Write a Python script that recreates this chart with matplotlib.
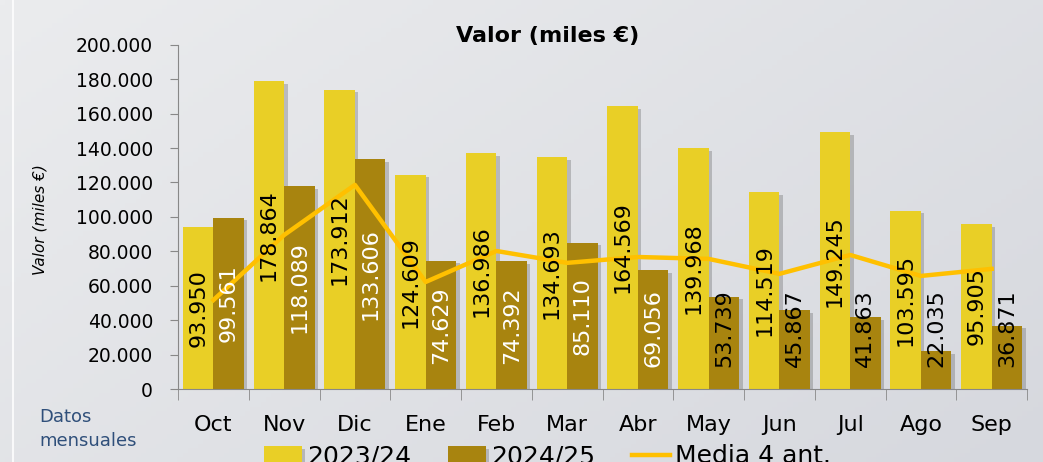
import matplotlib.pyplot as plt
import matplotlib.patheffects as pe
import numpy as np
from matplotlib.lines import Line2D
from matplotlib.ticker import FuncFormatter

# Datos
meses = ["Oct", "Nov", "Dic", "Ene", "Feb", "Mar", "Abr", "May", "Jun", "Jul", "Ago", "Sep"]
v_2324 = [93950, 178864, 173912, 124609, 136986, 134693, 164569, 139968, 114519, 149245, 103595, 95905]
v_2425 = [99561, 118089, 133606, 74629, 74392, 85110, 69056, 53739, 45867, 41863, 22035, 36871]
media4 = [51700, 89500, 118600, 62200, 80200, 73300, 76700, 75600, 66900, 77900, 65700, 69800]
# color de la etiqueta en las barras 2024/25
col_lbl_2425 = ["white"] * 7 + ["black"] * 5

amarillo = "#E9CF26"
marron = "#A8840F"
naranja = "#FFC000"


def miles(v):
    return f"{v:,.0f}".replace(",", ".")


def pos_etiqueta(v):
    # la etiqueta va centrada en la barra, pero sin bajar del eje
    return max(v / 2, 35500)


fig = plt.figure(figsize=(10.43, 4.62), dpi=100)

# fondo degradado
bg = fig.add_axes([0, 0, 1, 1], zorder=-10)
gx, gy = np.meshgrid(np.linspace(0, 1, 200), np.linspace(0, 1, 100))
g = 0.6 * gx + 0.4 * gy
c1 = np.array([235, 236, 238]) / 255
c2 = np.array([214, 216, 222]) / 255
img = c1 + (c2 - c1) * g[..., None]
bg.imshow(img, aspect="auto", extent=[0, 1, 0, 1])
bg.axis("off")
fig.add_artist(Line2D([0.012, 0.012], [0, 1], color="white", lw=1.5, alpha=0.8))

ax = fig.add_axes([0.1707, 0.158, 0.814, 0.745])
ax.patch.set_alpha(0)

x = np.arange(len(meses))
w = 0.43
sombra = [pe.SimplePatchShadow(offset=(2.5, -2), shadow_rgbFace="#555555", alpha=0.3), pe.Normal()]
b1 = ax.bar(x - w / 2, v_2324, w, color=amarillo, zorder=2, label="2023/24")
b2 = ax.bar(x + w / 2, v_2425, w, color=marron, zorder=2, label="2024/25")
for b in list(b1) + list(b2):
    b.set_path_effects(sombra)

ln, = ax.plot(x, media4, color=naranja, lw=3.2, zorder=3, label="Media 4 ant.")

for i in range(len(meses)):
    ax.text(x[i] - w / 2, pos_etiqueta(v_2324[i]), miles(v_2324[i]), rotation=90, ha="center", va="center",
            fontsize=16, color="black", zorder=4)
    ax.text(x[i] + w / 2, pos_etiqueta(v_2425[i]), miles(v_2425[i]), rotation=90, ha="center", va="center",
            fontsize=16, color=col_lbl_2425[i], zorder=4)

ax.set_xlim(-0.5, len(meses) - 0.5)
ax.set_ylim(0, 200000)
ax.set_yticks(np.arange(0, 200001, 20000))
ax.yaxis.set_major_formatter(FuncFormatter(lambda v, p: miles(v)))
ax.tick_params(axis="y", labelsize=13.5, length=6, color="#888888", pad=12)

ax.set_xticks(x)
ax.set_xticklabels(meses, fontsize=16)
ax.set_xticks(np.arange(-0.5, len(meses), 1), minor=True)
ax.tick_params(axis="x", which="major", length=0, pad=19)
ax.tick_params(axis="x", which="minor", length=8, color="#888888")

for s in ["top", "right"]:
    ax.spines[s].set_visible(False)
for s in ["left", "bottom"]:
    ax.spines[s].set_color("#888888")

fig.text(0.525, 0.922, "Valor (miles €)", ha="center", va="center", fontsize=16, fontweight="bold")
fig.text(0.038, 0.525, "Valor (miles €)", rotation=90, ha="center", va="center", fontsize=11, style="italic")
fig.text(0.038, 0.072, "Datos\nmensuales", ha="left", va="center", fontsize=13, color="#2F4F7A", linespacing=1.45)

fig.legend([b1, b2, ln], ["2023/24", "2024/25", "Media 4 ant."], loc="center",
           bbox_to_anchor=(0.525, 0.012), ncol=3, frameon=False, fontsize=18,
           handlelength=1.5, columnspacing=1.5, handletextpad=0.2)

fig.savefig("out.png", dpi=100)
